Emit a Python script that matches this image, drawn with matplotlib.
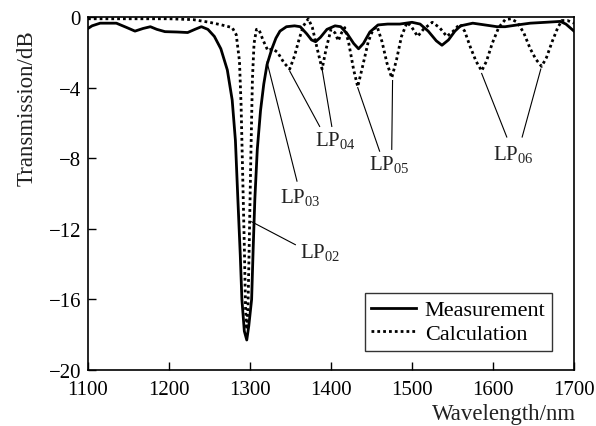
import matplotlib
matplotlib.use("Agg")
import matplotlib.pyplot as plt

plt.rcParams['font.family'] = ['Liberation Serif', 'DejaVu Serif']
plt.rcParams['mathtext.fontset'] = 'custom'
plt.rcParams['mathtext.rm'] = 'Liberation Serif'

meas_wl = [1100, 1105, 1115, 1135, 1148, 1158, 1168, 1177, 1185, 1195, 1210, 1223, 1232, 1240,
           1248, 1256, 1264, 1272, 1278, 1282, 1285, 1288, 1290, 1293, 1296, 1298.5, 1302,
           1304, 1306, 1309, 1313, 1317, 1321, 1327, 1332, 1337, 1345, 1355, 1362, 1370, 1376, 1381,
           1387, 1395, 1405, 1412, 1420, 1428, 1434, 1440, 1448, 1458, 1470, 1485, 1500, 1510,
           1520, 1530, 1537, 1545, 1553, 1560, 1575, 1590, 1605, 1615, 1630, 1646, 1665, 1683,
           1690, 1695, 1700]
meas_db = [-0.65, -0.5, -0.35, -0.35, -0.6, -0.8, -0.65, -0.55, -0.7, -0.83, -0.85, -0.88, -0.7, -0.55,
           -0.7, -1.1, -1.8, -3.0, -4.7, -7.0, -10.3, -13.5, -16.0, -17.8, -18.3, -17.5, -16.0,
           -13.0, -10.3, -7.5, -5.3, -3.8, -2.7, -1.8, -1.2, -0.8, -0.55, -0.5, -0.55, -0.95, -1.3, -1.4,
           -1.15, -0.7, -0.5, -0.55, -0.95, -1.5, -1.8, -1.5, -0.85, -0.45, -0.4, -0.4, -0.3, -0.4,
           -0.8, -1.35, -1.6, -1.3, -0.8, -0.5, -0.35, -0.45, -0.55, -0.55, -0.45, -0.35, -0.3, -0.25,
           -0.4, -0.6, -0.8]

calc_wl = [1100, 1150, 1200, 1230, 1250, 1265, 1278, 1283, 1287, 1289, 1291, 1293, 1294.5, 1296,
           1297.5, 1299, 1301, 1303, 1305, 1308, 1311, 1316, 1322, 1328, 1334, 1342, 1349, 1355,
           1361, 1366, 1372, 1377, 1383, 1389, 1394, 1400, 1405, 1409, 1413, 1417, 1422, 1428,
           1433, 1439, 1446, 1452, 1457, 1463, 1469, 1475, 1481, 1487, 1494, 1500, 1507, 1514,
           1525, 1534, 1543, 1551, 1559, 1565, 1572, 1579, 1586, 1592, 1599, 1607, 1615, 1622,
           1630, 1638, 1646, 1653, 1660, 1666, 1673, 1680, 1685, 1692, 1700]
calc_db = [-0.1, -0.1, -0.1, -0.15, -0.3, -0.45, -0.6, -1.0, -2.5, -5.0, -9.0, -13.0, -16.5, -17.7,
           -16.5, -13.0, -8.0, -3.5, -1.5, -0.7, -0.7, -1.3, -1.9, -1.8, -2.0, -2.6, -2.95, -2.2,
           -1.2, -0.5, -0.1, -0.6, -1.8, -2.95, -1.8, -0.7, -0.9, -1.35, -0.9, -0.6, -1.5, -3.0,
           -3.95, -2.8, -1.4, -0.7, -0.55, -1.4, -2.6, -3.45, -2.4, -1.1, -0.3, -0.6, -1.1, -0.7,
           -0.3, -0.6, -1.1, -0.8, -0.4, -0.8, -1.7, -2.5, -3.05, -2.5, -1.5, -0.6, -0.15, -0.1,
           -0.3, -0.9, -1.8, -2.4, -2.8, -2.3, -1.4, -0.6, -0.2, -0.2, -0.35]

x_ticks = [1100, 1200, 1300, 1400, 1500, 1600, 1700]
y_ticks = [0, -4, -8, -12, -16, -20]

# annotation labels: (text, text position, [line start, line end]...)
labels = [
    ("LP$_{02}$", (1362, -13.3), [((1356, -12.9), (1302, -11.6))]),
    ("LP$_{03}$", (1337, -10.2), [((1358, -9.3), (1321, -2.55))]),
    ("LP$_{04}$", (1380, -7.0), [((1386, -6.2), (1349, -3.06)), ((1401, -6.2), (1389, -2.95))]),
    ("LP$_{05}$", (1447, -8.35), [((1460, -7.6), (1433, -4.0)), ((1475, -7.5), (1476, -3.6))]),
    ("LP$_{06}$", (1600, -7.8), [((1617, -6.8), (1586, -3.2)), ((1636, -6.8), (1659, -2.95))]),
]

fig = plt.figure(figsize=(5.96, 4.27), dpi=100)
ax = fig.add_axes([88/596, 1-371/427, 486/596, 353/427])

ax.plot(meas_wl, meas_db, color='black', lw=2.0, label='Measurement')
ax.plot(calc_wl, calc_db, color='black', lw=2.0, linestyle=(0, (1, 1.1)), label='Calculation')

for text, pos, lines in labels:
    ax.text(pos[0], pos[1], text, fontsize=15, ha='left', va='center', color='#222222')
    for (p0, p1) in lines:
        ax.plot([p0[0], p1[0]], [p0[1], p1[1]], color='black', lw=0.8)

ax.set_xlim(1100, 1700)
ax.set_ylim(-20, 0)
ax.set_xticks(x_ticks)
ax.set_yticks(y_ticks)
ax.set_xticklabels([str(v) for v in x_ticks])
ax.set_yticklabels([('\u2212' + str(-v)) if v < 0 else str(v) for v in y_ticks])
ax.tick_params(direction='in', length=6, width=1, labelsize=15, top=False, right=False)
ax.tick_params(axis='x', pad=7)
ax.tick_params(axis='y', pad=5)
for s in ax.spines.values():
    s.set_linewidth(1.2)

ax.text(-0.125, 0.745, 'Transmission/dB', rotation=90, transform=ax.transAxes,
        ha='center', va='center', fontsize=16.5, color='#222222')
ax.text(1.005, -0.122, 'Wavelength/nm', transform=ax.transAxes,
        ha='right', va='center', fontsize=16.5, color='#222222')

leg = ax.legend(loc='lower right', bbox_to_anchor=(0.955, 0.054), borderaxespad=0,
                fontsize=16, frameon=True, fancybox=False, handlelength=2.0,
                handletextpad=0.4, labelspacing=0.15, borderpad=0.3)
leg.get_frame().set_edgecolor('black')
leg.get_frame().set_linewidth(1.0)

fig.savefig('out.png', dpi=100)
